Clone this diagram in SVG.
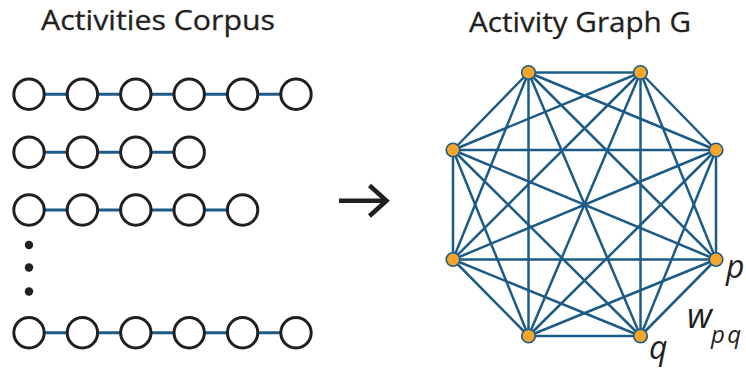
<svg xmlns="http://www.w3.org/2000/svg" width="746" height="371" viewBox="0 0 746 371">
  <style>
    .title { font-family: "Myriad Pro", "Open Sans", "Noto Sans", sans-serif; font-size: 28px; fill: #231f20; stroke: #231f20; stroke-width: 0.3; }
    .lbl { font-family: "Myriad Pro", "Open Sans", "Noto Sans", sans-serif; font-style: italic; fill: #231f20; }
    .seq { fill: #ffffff; stroke: #231f20; stroke-width: 3; }
    .link { stroke: #1c5b86; stroke-width: 3; }
    .edge { stroke: #1c5b86; stroke-width: 2.5; }
    .vtx { fill: #f4a52c; stroke: #1c5b86; stroke-width: 1.6; }
    .dot { fill: #231f20; }
  </style>
  <rect width="746" height="371" fill="#ffffff"/>

  <!-- titles -->
  <text class="title" x="41" y="29.5" textLength="234" lengthAdjust="spacingAndGlyphs">Activities Corpus</text>
  <text class="title" x="469" y="31.5" textLength="222" lengthAdjust="spacingAndGlyphs">Activity Graph G</text>

  <!-- sequence links -->
  <g id="sequence-links">
    <line class="link" x1="29" y1="94.3" x2="296" y2="94.3"/>
    <line class="link" x1="29" y1="152.2" x2="189.3" y2="152.2"/>
    <line class="link" x1="29" y1="210" x2="242.7" y2="210"/>
    <line class="link" x1="29" y1="332.7" x2="296" y2="332.7"/>
  </g>

  <!-- sequence 1 -->
  <g id="s1-a1"><circle class="seq" cx="29" cy="94.3" r="15.2"/></g>
  <g id="s1-a2"><circle class="seq" cx="82.4" cy="94.3" r="15.2"/></g>
  <g id="s1-a3"><circle class="seq" cx="135.8" cy="94.3" r="15.2"/></g>
  <g id="s1-a4"><circle class="seq" cx="189.2" cy="94.3" r="15.2"/></g>
  <g id="s1-a5"><circle class="seq" cx="242.6" cy="94.3" r="15.2"/></g>
  <g id="s1-a6"><circle class="seq" cx="296" cy="94.3" r="15.2"/></g>

  <!-- sequence 2 -->
  <g id="s2-a1"><circle class="seq" cx="29" cy="152.2" r="15.2"/></g>
  <g id="s2-a2"><circle class="seq" cx="82.4" cy="152.2" r="15.2"/></g>
  <g id="s2-a3"><circle class="seq" cx="135.8" cy="152.2" r="15.2"/></g>
  <g id="s2-a4"><circle class="seq" cx="189.2" cy="152.2" r="15.2"/></g>

  <!-- sequence 3 -->
  <g id="s3-a1"><circle class="seq" cx="29" cy="210" r="15.2"/></g>
  <g id="s3-a2"><circle class="seq" cx="82.4" cy="210" r="15.2"/></g>
  <g id="s3-a3"><circle class="seq" cx="135.8" cy="210" r="15.2"/></g>
  <g id="s3-a4"><circle class="seq" cx="189.2" cy="210" r="15.2"/></g>
  <g id="s3-a5"><circle class="seq" cx="242.6" cy="210" r="15.2"/></g>

  <!-- ellipsis -->
  <g id="ellipsis">
    <circle class="dot" cx="29" cy="245" r="4.2"/>
    <circle class="dot" cx="29" cy="267.5" r="4.2"/>
    <circle class="dot" cx="29" cy="291.5" r="4.2"/>
  </g>

  <!-- last sequence -->
  <g id="sn-a1"><circle class="seq" cx="29" cy="332.7" r="15.2"/></g>
  <g id="sn-a2"><circle class="seq" cx="82.4" cy="332.7" r="15.2"/></g>
  <g id="sn-a3"><circle class="seq" cx="135.8" cy="332.7" r="15.2"/></g>
  <g id="sn-a4"><circle class="seq" cx="189.2" cy="332.7" r="15.2"/></g>
  <g id="sn-a5"><circle class="seq" cx="242.6" cy="332.7" r="15.2"/></g>
  <g id="sn-a6"><circle class="seq" cx="296" cy="332.7" r="15.2"/></g>

  <!-- transformation arrow -->
  <g id="arrow" fill="none" stroke="#231f20" stroke-width="4.5">
    <line x1="339" y1="200.7" x2="386" y2="200.7"/>
    <path d="M369.5,185.5 L386.5,200.7 L369.5,216" stroke-linejoin="miter"/>
  </g>

  <!-- complete graph edges -->
  <g id="graph-edges">
    <line class="edge" x1="528.5" y1="72.5" x2="640.5" y2="72.5"/>
    <line class="edge" x1="528.5" y1="72.5" x2="716" y2="150"/>
    <line class="edge" x1="528.5" y1="72.5" x2="716" y2="259.5"/>
    <line class="edge" x1="528.5" y1="72.5" x2="640.5" y2="336"/>
    <line class="edge" x1="528.5" y1="72.5" x2="528.5" y2="336"/>
    <line class="edge" x1="528.5" y1="72.5" x2="453" y2="259.5"/>
    <line class="edge" x1="528.5" y1="72.5" x2="453" y2="150"/>
    <line class="edge" x1="640.5" y1="72.5" x2="716" y2="150"/>
    <line class="edge" x1="640.5" y1="72.5" x2="716" y2="259.5"/>
    <line class="edge" x1="640.5" y1="72.5" x2="640.5" y2="336"/>
    <line class="edge" x1="640.5" y1="72.5" x2="528.5" y2="336"/>
    <line class="edge" x1="640.5" y1="72.5" x2="453" y2="259.5"/>
    <line class="edge" x1="640.5" y1="72.5" x2="453" y2="150"/>
    <line class="edge" x1="716" y1="150" x2="716" y2="259.5"/>
    <line class="edge" x1="716" y1="150" x2="640.5" y2="336"/>
    <line class="edge" x1="716" y1="150" x2="528.5" y2="336"/>
    <line class="edge" x1="716" y1="150" x2="453" y2="259.5"/>
    <line class="edge" x1="716" y1="150" x2="453" y2="150"/>
    <line class="edge" x1="716" y1="259.5" x2="640.5" y2="336"/>
    <line class="edge" x1="716" y1="259.5" x2="528.5" y2="336"/>
    <line class="edge" x1="716" y1="259.5" x2="453" y2="259.5"/>
    <line class="edge" x1="716" y1="259.5" x2="453" y2="150"/>
    <line class="edge" x1="640.5" y1="336" x2="528.5" y2="336"/>
    <line class="edge" x1="640.5" y1="336" x2="453" y2="259.5"/>
    <line class="edge" x1="640.5" y1="336" x2="453" y2="150"/>
    <line class="edge" x1="528.5" y1="336" x2="453" y2="259.5"/>
    <line class="edge" x1="528.5" y1="336" x2="453" y2="150"/>
    <line class="edge" x1="453" y1="259.5" x2="453" y2="150"/>
  </g>

  <!-- graph vertices -->
  <g id="v1"><circle class="vtx" cx="528.5" cy="72.5" r="6.8"/></g>
  <g id="v2"><circle class="vtx" cx="640.5" cy="72.5" r="6.8"/></g>
  <g id="v3"><circle class="vtx" cx="716" cy="150" r="6.8"/></g>
  <g id="v-p"><circle class="vtx" cx="716" cy="259.5" r="6.8"/></g>
  <g id="v-q"><circle class="vtx" cx="640.5" cy="336" r="6.8"/></g>
  <g id="v6"><circle class="vtx" cx="528.5" cy="336" r="6.8"/></g>
  <g id="v7"><circle class="vtx" cx="453" cy="259.5" r="6.8"/></g>
  <g id="v8"><circle class="vtx" cx="453" cy="150" r="6.8"/></g>

  <!-- labels -->
  <text class="lbl" x="726" y="278" font-size="32">p</text>
  <text class="lbl" x="687" y="327.5" font-size="35">w</text>
  <text class="lbl" x="711" y="343" font-size="24" letter-spacing="2.5">pq</text>
  <text class="lbl" x="649" y="358.5" font-size="32">q</text>
</svg>
